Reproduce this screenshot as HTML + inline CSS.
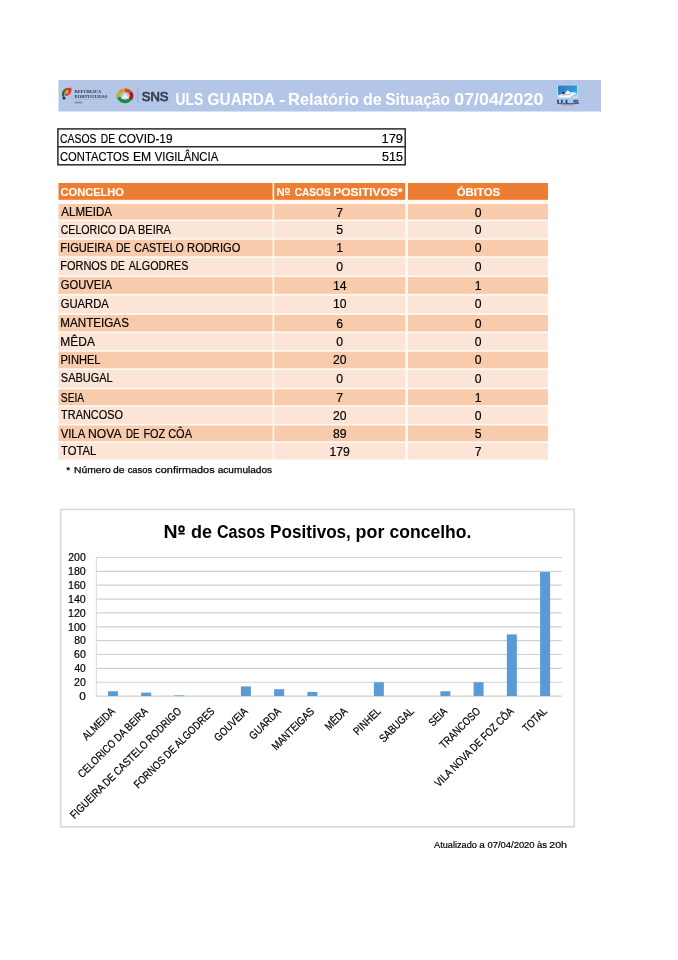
<!DOCTYPE html>
<html><head><meta charset="utf-8"><style>
html,body{margin:0;padding:0;background:#fff;width:678px;height:960px;overflow:hidden}
svg{display:block;will-change:transform}
text{font-family:"Liberation Sans",sans-serif}
</style></head><body>
<svg width="678" height="960" viewBox="0 0 678 960">
<rect x="58.5" y="80" width="542.5" height="31.5" fill="#b4c6e7"/>
<g><path d="M65.6 88.2 C62.6 89.6 61.4 93.4 62.2 96.8 L64.4 96.4 C64 93.8 64.6 91 66.4 89.2 Z" fill="#1c6e34"/><path d="M65.2 88.6 C67.6 87.6 71 87.4 71.5 88.2 C71.8 91.8 70.4 95.2 65.6 96 C64.6 93.4 64.4 90.6 65.2 88.6 Z" fill="#d43a22"/><ellipse cx="66.9" cy="91.9" rx="1.7" ry="2.0" fill="#f49a5a"/><circle cx="64" cy="98.2" r="1.4" fill="#16303e"/></g>
<text x="74.53" y="92.80" font-size="4.9" fill="#3e4256" style="font-family:Liberation Serif, serif" stroke="#3e4256" stroke-width="0.08" font-weight="bold" textLength="26.89" lengthAdjust="spacingAndGlyphs" >REPÚBLICA</text>
<text x="74.53" y="97.60" font-size="4.9" fill="#3e4256" style="font-family:Liberation Serif, serif" stroke="#3e4256" stroke-width="0.08" font-weight="bold" textLength="33.00" lengthAdjust="spacingAndGlyphs" >PORTUGUESA</text>
<rect x="74.6" y="99.2" width="33" height="0.4" fill="#9aa2b8"/>
<rect x="74.6" y="101.8" width="7.6" height="1.5" fill="#7a8098"/>
<g fill="none" stroke-width="3.5"><path d="M131.38 97.25 A6.6 5.6 0 0 1 118.62 94.35" stroke="#1f8a3a"/><path d="M118.62 97.25 A6.6 5.6 0 0 1 120.33 91.84" stroke="#a8c030"/><path d="M119.59 92.59 A6.6 5.6 0 0 1 126.15 90.29" stroke="#f09030"/><path d="M125.00 90.20 A6.6 5.6 0 0 1 131.20 93.88" stroke="#d84a1c"/><path d="M130.72 93.00 A6.6 5.6 0 0 1 130.41 99.01" stroke="#a8182a"/></g>
<path d="M121.2 98.6 L125.2 93.6 L129.2 98.6 Z" fill="#eef4f6"/>
<rect x="137.4" y="88" width="0.8" height="15" fill="#9aa6c0"/>
<text x="141.71" y="100.80" font-size="13.6" fill="#363c4e" stroke="#363c4e" stroke-width="0.75" textLength="26.89" lengthAdjust="spacingAndGlyphs" >SNS</text>
<text x="175.57" y="104.80" font-size="16" fill="#ffffff" font-weight="bold" textLength="27.72" lengthAdjust="spacingAndGlyphs" >ULS</text>
<text x="207.59" y="104.80" font-size="16" fill="#ffffff" font-weight="bold" textLength="67.46" lengthAdjust="spacingAndGlyphs" >GUARDA</text>
<text x="278.96" y="104.80" font-size="16" fill="#ffffff" font-weight="bold" textLength="6.14" lengthAdjust="spacingAndGlyphs" >-</text>
<text x="288.14" y="104.80" font-size="16" fill="#ffffff" font-weight="bold" textLength="70.80" lengthAdjust="spacingAndGlyphs" >Relatório</text>
<text x="362.96" y="104.80" font-size="16" fill="#ffffff" font-weight="bold" textLength="18.74" lengthAdjust="spacingAndGlyphs" >de</text>
<text x="385.23" y="104.80" font-size="16" fill="#ffffff" font-weight="bold" textLength="64.74" lengthAdjust="spacingAndGlyphs" >Situação</text>
<text x="454.29" y="104.80" font-size="16" fill="#ffffff" font-weight="bold" textLength="89.02" lengthAdjust="spacingAndGlyphs" >07/04/2020</text>
<defs><linearGradient id="ulsg" x1="0" y1="0" x2="1" y2="1"><stop offset="0" stop-color="#2a78c0"/><stop offset="0.6" stop-color="#2f9ad8"/><stop offset="1" stop-color="#40c8c8"/></linearGradient></defs>
<rect x="557.2" y="84.8" width="20.6" height="13.2" fill="#c8daf0"/>
<path d="M558 85.6 H577 V94.5 Q567.5 99.5 558 94.5 Z" fill="url(#ulsg)"/>
<path d="M558.4 96.2 Q563 91.6 572 92.2 Q576.5 92.6 576.6 93.4 Q571 97.8 563.5 97.6 Q559.5 97.4 558.4 96.2 Z" fill="#f4f8fc"/>
<path d="M560.5 95.4 Q566 93.4 573.5 93.6 Q568 96.2 560.5 95.4 Z" fill="#9ac4e0"/>
<circle cx="563.4" cy="93.1" r="1.35" fill="#8a1044"/>
<ellipse cx="567.8" cy="92.3" rx="1.5" ry="1.8" fill="#ffffff"/>
<text x="556.68" y="103.80" font-size="4.6" fill="#1f4a86" stroke="#1f4a86" stroke-width="0.3" font-weight="bold" textLength="22.23" lengthAdjust="spacingAndGlyphs" >U.L.S</text>
<rect x="561.2" y="104.3" width="12.8" height="1.0" fill="#d07888"/>
<rect x="57.9" y="128.9" width="347.3" height="35.9" fill="none" stroke="#2a2a2a" stroke-width="1.5"/>
<line x1="57.9" y1="146.8" x2="405.2" y2="146.8" stroke="#2a2a2a" stroke-width="1.5"/>
<text x="60.08" y="142.70" font-size="12.1" fill="#000" stroke="#000" stroke-width="0.18" textLength="36.40" lengthAdjust="spacingAndGlyphs" >CASOS</text>
<text x="100.78" y="142.70" font-size="12.1" fill="#000" stroke="#000" stroke-width="0.18" textLength="14.17" lengthAdjust="spacingAndGlyphs" >DE</text>
<text x="118.21" y="142.70" font-size="12.1" fill="#000" stroke="#000" stroke-width="0.18" textLength="54.25" lengthAdjust="spacingAndGlyphs" >COVID-19</text>
<text x="381.53" y="142.70" font-size="12.1" fill="#000" stroke="#000" stroke-width="0.18" textLength="21.49" lengthAdjust="spacingAndGlyphs" >179</text>
<text x="60.04" y="160.70" font-size="12.1" fill="#000" stroke="#000" stroke-width="0.18" textLength="69.27" lengthAdjust="spacingAndGlyphs" >CONTACTOS</text>
<text x="132.93" y="160.70" font-size="12.1" fill="#000" stroke="#000" stroke-width="0.18" textLength="18.20" lengthAdjust="spacingAndGlyphs" >EM</text>
<text x="154.74" y="160.70" font-size="12.1" fill="#000" stroke="#000" stroke-width="0.18" textLength="63.49" lengthAdjust="spacingAndGlyphs" >VIGILÂNCIA</text>
<text x="382.00" y="160.70" font-size="12.1" fill="#000" stroke="#000" stroke-width="0.18" textLength="20.95" lengthAdjust="spacingAndGlyphs" >515</text>
<rect x="58.5" y="199.6" width="489.5" height="259.9" fill="#fff9f2"/>
<g fill="#ed7d31">
<rect x="58.5" y="183" width="214.1" height="16.8"/>
<rect x="274.2" y="183" width="131.0" height="16.8"/>
<rect x="408.0" y="183" width="140.0" height="16.8"/>
</g>
<text x="60.56" y="196.40" font-size="11.5" fill="#fffaf2" stroke="#fffaf2" stroke-width="0.2" font-weight="bold" textLength="63.41" lengthAdjust="spacingAndGlyphs" >CONCELHO</text>
<text x="276.46" y="196.20" font-size="11.5" fill="#fffaf2" stroke="#fffaf2" stroke-width="0.2" font-weight="bold" textLength="8.20" lengthAdjust="spacingAndGlyphs" >N</text>
<ellipse cx="287.5" cy="190.5" rx="1.9" ry="2.0" fill="none" stroke="#fffaf2" stroke-width="1.3"/>
<rect x="285.2" y="193.8" width="4.8" height="1.1" fill="#fffaf2"/>
<text x="294.80" y="196.20" font-size="11.5" fill="#fffaf2" stroke="#fffaf2" stroke-width="0.2" font-weight="bold" textLength="35.87" lengthAdjust="spacingAndGlyphs" >CASOS</text>
<text x="333.22" y="196.20" font-size="11.5" fill="#fffaf2" stroke="#fffaf2" stroke-width="0.2" font-weight="bold" textLength="69.33" lengthAdjust="spacingAndGlyphs" >POSITIVOS*</text>
<text x="456.75" y="196.40" font-size="11.5" fill="#fffaf2" stroke="#fffaf2" stroke-width="0.2" font-weight="bold" textLength="43.36" lengthAdjust="spacingAndGlyphs" >ÓBITOS</text>
<rect x="58.5" y="204.00" width="214.1" height="15.50" fill="#f8cbad"/>
<rect x="274.2" y="204.00" width="131.0" height="15.50" fill="#f8cbad"/>
<rect x="408.0" y="204.00" width="140.0" height="15.50" fill="#f8cbad"/>
<text x="61.30" y="216.40" font-size="11.9" fill="#000" stroke="#000" stroke-width="0.18" textLength="50.60" lengthAdjust="spacingAndGlyphs" >ALMEIDA</text>
<text x="339.70" y="216.60" font-size="12.2" fill="#000" stroke="#000" stroke-width="0.18" text-anchor="middle" >7</text>
<text x="478.20" y="216.60" font-size="12.2" fill="#000" stroke="#000" stroke-width="0.18" text-anchor="middle" >0</text>
<rect x="58.5" y="221.20" width="214.1" height="16.90" fill="#fce4d6"/>
<rect x="274.2" y="221.20" width="131.0" height="16.90" fill="#fce4d6"/>
<rect x="408.0" y="221.20" width="140.0" height="16.90" fill="#fce4d6"/>
<text x="60.67" y="233.60" font-size="11.9" fill="#000" stroke="#000" stroke-width="0.18" textLength="55.44" lengthAdjust="spacingAndGlyphs" >CELORICO</text>
<text x="119.06" y="233.60" font-size="11.9" fill="#000" stroke="#000" stroke-width="0.18" textLength="16.39" lengthAdjust="spacingAndGlyphs" >DA</text>
<text x="138.02" y="233.60" font-size="11.9" fill="#000" stroke="#000" stroke-width="0.18" textLength="32.89" lengthAdjust="spacingAndGlyphs" >BEIRA</text>
<text x="339.70" y="233.80" font-size="12.2" fill="#000" stroke="#000" stroke-width="0.18" text-anchor="middle" >5</text>
<text x="478.20" y="233.80" font-size="12.2" fill="#000" stroke="#000" stroke-width="0.18" text-anchor="middle" >0</text>
<rect x="58.5" y="239.80" width="214.1" height="16.50" fill="#f8cbad"/>
<rect x="274.2" y="239.80" width="131.0" height="16.50" fill="#f8cbad"/>
<rect x="408.0" y="239.80" width="140.0" height="16.50" fill="#f8cbad"/>
<text x="60.31" y="252.20" font-size="11.9" fill="#000" stroke="#000" stroke-width="0.18" textLength="52.42" lengthAdjust="spacingAndGlyphs" >FIGUEIRA</text>
<text x="115.96" y="252.20" font-size="11.9" fill="#000" stroke="#000" stroke-width="0.18" textLength="14.61" lengthAdjust="spacingAndGlyphs" >DE</text>
<text x="134.27" y="252.20" font-size="11.9" fill="#000" stroke="#000" stroke-width="0.18" textLength="49.54" lengthAdjust="spacingAndGlyphs" >CASTELO</text>
<text x="187.11" y="252.20" font-size="11.9" fill="#000" stroke="#000" stroke-width="0.18" textLength="53.22" lengthAdjust="spacingAndGlyphs" >RODRIGO</text>
<text x="339.70" y="252.40" font-size="12.2" fill="#000" stroke="#000" stroke-width="0.18" text-anchor="middle" >1</text>
<text x="478.20" y="252.40" font-size="12.2" fill="#000" stroke="#000" stroke-width="0.18" text-anchor="middle" >0</text>
<rect x="58.5" y="258.00" width="214.1" height="17.30" fill="#fce4d6"/>
<rect x="274.2" y="258.00" width="131.0" height="17.30" fill="#fce4d6"/>
<rect x="408.0" y="258.00" width="140.0" height="17.30" fill="#fce4d6"/>
<text x="60.32" y="270.40" font-size="11.9" fill="#000" stroke="#000" stroke-width="0.18" textLength="46.80" lengthAdjust="spacingAndGlyphs" >FORNOS</text>
<text x="110.48" y="270.40" font-size="11.9" fill="#000" stroke="#000" stroke-width="0.18" textLength="14.28" lengthAdjust="spacingAndGlyphs" >DE</text>
<text x="128.70" y="270.40" font-size="11.9" fill="#000" stroke="#000" stroke-width="0.18" textLength="59.71" lengthAdjust="spacingAndGlyphs" >ALGODRES</text>
<text x="339.70" y="270.60" font-size="12.2" fill="#000" stroke="#000" stroke-width="0.18" text-anchor="middle" >0</text>
<text x="478.20" y="270.60" font-size="12.2" fill="#000" stroke="#000" stroke-width="0.18" text-anchor="middle" >0</text>
<rect x="58.5" y="277.00" width="214.1" height="16.90" fill="#f8cbad"/>
<rect x="274.2" y="277.00" width="131.0" height="16.90" fill="#f8cbad"/>
<rect x="408.0" y="277.00" width="140.0" height="16.90" fill="#f8cbad"/>
<text x="60.74" y="289.40" font-size="11.9" fill="#000" stroke="#000" stroke-width="0.18" textLength="51.18" lengthAdjust="spacingAndGlyphs" >GOUVEIA</text>
<text x="339.70" y="289.60" font-size="12.2" fill="#000" stroke="#000" stroke-width="0.18" text-anchor="middle" >14</text>
<text x="478.20" y="289.60" font-size="12.2" fill="#000" stroke="#000" stroke-width="0.18" text-anchor="middle" >1</text>
<rect x="58.5" y="295.60" width="214.1" height="17.70" fill="#fce4d6"/>
<rect x="274.2" y="295.60" width="131.0" height="17.70" fill="#fce4d6"/>
<rect x="408.0" y="295.60" width="140.0" height="17.70" fill="#fce4d6"/>
<text x="60.74" y="308.00" font-size="11.9" fill="#000" stroke="#000" stroke-width="0.18" textLength="48.10" lengthAdjust="spacingAndGlyphs" >GUARDA</text>
<text x="339.70" y="308.20" font-size="12.2" fill="#000" stroke="#000" stroke-width="0.18" text-anchor="middle" >10</text>
<text x="478.20" y="308.20" font-size="12.2" fill="#000" stroke="#000" stroke-width="0.18" text-anchor="middle" >0</text>
<rect x="58.5" y="315.00" width="214.1" height="16.40" fill="#f8cbad"/>
<rect x="274.2" y="315.00" width="131.0" height="16.40" fill="#f8cbad"/>
<rect x="408.0" y="315.00" width="140.0" height="16.40" fill="#f8cbad"/>
<text x="60.37" y="327.40" font-size="11.9" fill="#000" stroke="#000" stroke-width="0.18" textLength="68.55" lengthAdjust="spacingAndGlyphs" >MANTEIGAS</text>
<text x="339.70" y="327.60" font-size="12.2" fill="#000" stroke="#000" stroke-width="0.18" text-anchor="middle" >6</text>
<text x="478.20" y="327.60" font-size="12.2" fill="#000" stroke="#000" stroke-width="0.18" text-anchor="middle" >0</text>
<rect x="58.5" y="333.10" width="214.1" height="16.90" fill="#fce4d6"/>
<rect x="274.2" y="333.10" width="131.0" height="16.90" fill="#fce4d6"/>
<rect x="408.0" y="333.10" width="140.0" height="16.90" fill="#fce4d6"/>
<text x="60.34" y="345.50" font-size="11.9" fill="#000" stroke="#000" stroke-width="0.18" textLength="34.61" lengthAdjust="spacingAndGlyphs" >MÊDA</text>
<text x="339.70" y="345.70" font-size="12.2" fill="#000" stroke="#000" stroke-width="0.18" text-anchor="middle" >0</text>
<text x="478.20" y="345.70" font-size="12.2" fill="#000" stroke="#000" stroke-width="0.18" text-anchor="middle" >0</text>
<rect x="58.5" y="351.70" width="214.1" height="16.60" fill="#f8cbad"/>
<rect x="274.2" y="351.70" width="131.0" height="16.60" fill="#f8cbad"/>
<rect x="408.0" y="351.70" width="140.0" height="16.60" fill="#f8cbad"/>
<text x="60.41" y="364.10" font-size="11.9" fill="#000" stroke="#000" stroke-width="0.18" textLength="40.05" lengthAdjust="spacingAndGlyphs" >PINHEL</text>
<text x="339.70" y="364.30" font-size="12.2" fill="#000" stroke="#000" stroke-width="0.18" text-anchor="middle" >20</text>
<text x="478.20" y="364.30" font-size="12.2" fill="#000" stroke="#000" stroke-width="0.18" text-anchor="middle" >0</text>
<rect x="58.5" y="370.00" width="214.1" height="17.60" fill="#fce4d6"/>
<rect x="274.2" y="370.00" width="131.0" height="17.60" fill="#fce4d6"/>
<rect x="408.0" y="370.00" width="140.0" height="17.60" fill="#fce4d6"/>
<text x="60.81" y="382.40" font-size="11.9" fill="#000" stroke="#000" stroke-width="0.18" textLength="51.92" lengthAdjust="spacingAndGlyphs" >SABUGAL</text>
<text x="339.70" y="382.60" font-size="12.2" fill="#000" stroke="#000" stroke-width="0.18" text-anchor="middle" >0</text>
<text x="478.20" y="382.60" font-size="12.2" fill="#000" stroke="#000" stroke-width="0.18" text-anchor="middle" >0</text>
<rect x="58.5" y="389.30" width="214.1" height="15.90" fill="#f8cbad"/>
<rect x="274.2" y="389.30" width="131.0" height="15.90" fill="#f8cbad"/>
<rect x="408.0" y="389.30" width="140.0" height="15.90" fill="#f8cbad"/>
<text x="60.84" y="401.70" font-size="11.9" fill="#000" stroke="#000" stroke-width="0.18" textLength="23.30" lengthAdjust="spacingAndGlyphs" >SEIA</text>
<text x="339.70" y="401.90" font-size="12.2" fill="#000" stroke="#000" stroke-width="0.18" text-anchor="middle" >7</text>
<text x="478.20" y="401.90" font-size="12.2" fill="#000" stroke="#000" stroke-width="0.18" text-anchor="middle" >1</text>
<rect x="58.5" y="406.90" width="214.1" height="16.90" fill="#fce4d6"/>
<rect x="274.2" y="406.90" width="131.0" height="16.90" fill="#fce4d6"/>
<rect x="408.0" y="406.90" width="140.0" height="16.90" fill="#fce4d6"/>
<text x="61.08" y="419.30" font-size="11.9" fill="#000" stroke="#000" stroke-width="0.18" textLength="61.93" lengthAdjust="spacingAndGlyphs" >TRANCOSO</text>
<text x="339.70" y="419.50" font-size="12.2" fill="#000" stroke="#000" stroke-width="0.18" text-anchor="middle" >20</text>
<text x="478.20" y="419.50" font-size="12.2" fill="#000" stroke="#000" stroke-width="0.18" text-anchor="middle" >0</text>
<rect x="58.5" y="425.50" width="214.1" height="15.80" fill="#f8cbad"/>
<rect x="274.2" y="425.50" width="131.0" height="15.80" fill="#f8cbad"/>
<rect x="408.0" y="425.50" width="140.0" height="15.80" fill="#f8cbad"/>
<text x="60.64" y="437.90" font-size="11.9" fill="#000" stroke="#000" stroke-width="0.18" textLength="24.59" lengthAdjust="spacingAndGlyphs" >VILA</text>
<text x="88.03" y="437.90" font-size="11.9" fill="#000" stroke="#000" stroke-width="0.18" textLength="33.47" lengthAdjust="spacingAndGlyphs" >NOVA</text>
<text x="126.03" y="437.90" font-size="11.9" fill="#000" stroke="#000" stroke-width="0.18" textLength="13.40" lengthAdjust="spacingAndGlyphs" >DE</text>
<text x="143.43" y="437.90" font-size="11.9" fill="#000" stroke="#000" stroke-width="0.18" textLength="21.79" lengthAdjust="spacingAndGlyphs" >FOZ</text>
<text x="168.15" y="437.90" font-size="11.9" fill="#000" stroke="#000" stroke-width="0.18" textLength="23.87" lengthAdjust="spacingAndGlyphs" >CÔA</text>
<text x="339.70" y="438.10" font-size="12.2" fill="#000" stroke="#000" stroke-width="0.18" text-anchor="middle" >89</text>
<text x="478.20" y="438.10" font-size="12.2" fill="#000" stroke="#000" stroke-width="0.18" text-anchor="middle" >5</text>
<rect x="58.5" y="443.00" width="214.1" height="16.50" fill="#fce4d6"/>
<rect x="274.2" y="443.00" width="131.0" height="16.50" fill="#fce4d6"/>
<rect x="408.0" y="443.00" width="140.0" height="16.50" fill="#fce4d6"/>
<text x="61.08" y="455.40" font-size="11.9" fill="#000" stroke="#000" stroke-width="0.18" textLength="35.17" lengthAdjust="spacingAndGlyphs" >TOTAL</text>
<text x="339.70" y="455.60" font-size="12.2" fill="#000" stroke="#000" stroke-width="0.18" text-anchor="middle" >179</text>
<text x="478.20" y="455.60" font-size="12.2" fill="#000" stroke="#000" stroke-width="0.18" text-anchor="middle" >7</text>
<text x="66.35" y="473.30" font-size="9.6" fill="#000" stroke="#000" stroke-width="0.25" textLength="3.89" lengthAdjust="spacingAndGlyphs" >*</text>
<text x="74.08" y="473.30" font-size="9.6" fill="#000" stroke="#000" stroke-width="0.25" textLength="36.66" lengthAdjust="spacingAndGlyphs" >Número</text>
<text x="113.09" y="473.30" font-size="9.6" fill="#000" stroke="#000" stroke-width="0.25" textLength="11.50" lengthAdjust="spacingAndGlyphs" >de</text>
<text x="127.73" y="473.30" font-size="9.6" fill="#000" stroke="#000" stroke-width="0.25" textLength="24.32" lengthAdjust="spacingAndGlyphs" >casos</text>
<text x="155.36" y="473.30" font-size="9.6" fill="#000" stroke="#000" stroke-width="0.25" textLength="59.24" lengthAdjust="spacingAndGlyphs" >confirmados</text>
<text x="217.70" y="473.30" font-size="9.6" fill="#000" stroke="#000" stroke-width="0.25" textLength="54.48" lengthAdjust="spacingAndGlyphs" >acumulados</text>
<rect x="60.7" y="509.4" width="513.6" height="317.4" fill="#fff" stroke="#d9d9d9" stroke-width="1.6"/>
<text x="163.43" y="537.50" font-size="17.6" fill="#000" font-weight="bold" textLength="14.08" lengthAdjust="spacingAndGlyphs" >N</text>
<ellipse cx="181.5" cy="528.9" rx="2.3" ry="2.7" fill="none" stroke="#000" stroke-width="1.9"/>
<rect x="178.4" y="533.0" width="6.3" height="1.5" fill="#000"/>
<text x="191.08" y="537.50" font-size="17.6" fill="#000" font-weight="bold" textLength="21.09" lengthAdjust="spacingAndGlyphs" >de</text>
<text x="217.06" y="537.50" font-size="17.6" fill="#000" font-weight="bold" textLength="48.11" lengthAdjust="spacingAndGlyphs" >Casos</text>
<text x="270.09" y="537.50" font-size="17.6" fill="#000" font-weight="bold" textLength="80.79" lengthAdjust="spacingAndGlyphs" >Positivos,</text>
<text x="355.64" y="537.50" font-size="17.6" fill="#000" font-weight="bold" textLength="28.74" lengthAdjust="spacingAndGlyphs" >por</text>
<text x="389.60" y="537.50" font-size="17.6" fill="#000" font-weight="bold" textLength="81.78" lengthAdjust="spacingAndGlyphs" >concelho.</text>
<line x1="96.3" y1="696.10" x2="561.7" y2="696.10" stroke="#d0d0d0" stroke-width="1.2"/>
<text x="79.23" y="699.80" font-size="10.7" fill="#000" stroke="#000" stroke-width="0.2" textLength="6.60" lengthAdjust="spacingAndGlyphs" >0</text>
<line x1="96.3" y1="682.24" x2="561.7" y2="682.24" stroke="#d0d0d0" stroke-width="1.2"/>
<text x="74.07" y="685.94" font-size="10.7" fill="#000" stroke="#000" stroke-width="0.2" textLength="11.72" lengthAdjust="spacingAndGlyphs" >20</text>
<line x1="96.3" y1="668.38" x2="561.7" y2="668.38" stroke="#d0d0d0" stroke-width="1.2"/>
<text x="74.40" y="672.08" font-size="10.7" fill="#000" stroke="#000" stroke-width="0.2" textLength="11.39" lengthAdjust="spacingAndGlyphs" >40</text>
<line x1="96.3" y1="654.52" x2="561.7" y2="654.52" stroke="#d0d0d0" stroke-width="1.2"/>
<text x="74.07" y="658.22" font-size="10.7" fill="#000" stroke="#000" stroke-width="0.2" textLength="11.72" lengthAdjust="spacingAndGlyphs" >60</text>
<line x1="96.3" y1="640.66" x2="561.7" y2="640.66" stroke="#d0d0d0" stroke-width="1.2"/>
<text x="74.13" y="644.36" font-size="10.7" fill="#000" stroke="#000" stroke-width="0.2" textLength="11.66" lengthAdjust="spacingAndGlyphs" >80</text>
<line x1="96.3" y1="626.80" x2="561.7" y2="626.80" stroke="#d0d0d0" stroke-width="1.2"/>
<text x="68.00" y="630.50" font-size="10.7" fill="#000" stroke="#000" stroke-width="0.2" textLength="17.81" lengthAdjust="spacingAndGlyphs" >100</text>
<line x1="96.3" y1="612.94" x2="561.7" y2="612.94" stroke="#d0d0d0" stroke-width="1.2"/>
<text x="68.00" y="616.64" font-size="10.7" fill="#000" stroke="#000" stroke-width="0.2" textLength="17.81" lengthAdjust="spacingAndGlyphs" >120</text>
<line x1="96.3" y1="599.08" x2="561.7" y2="599.08" stroke="#d0d0d0" stroke-width="1.2"/>
<text x="68.00" y="602.78" font-size="10.7" fill="#000" stroke="#000" stroke-width="0.2" textLength="17.81" lengthAdjust="spacingAndGlyphs" >140</text>
<line x1="96.3" y1="585.22" x2="561.7" y2="585.22" stroke="#d0d0d0" stroke-width="1.2"/>
<text x="68.00" y="588.92" font-size="10.7" fill="#000" stroke="#000" stroke-width="0.2" textLength="17.81" lengthAdjust="spacingAndGlyphs" >160</text>
<line x1="96.3" y1="571.36" x2="561.7" y2="571.36" stroke="#d0d0d0" stroke-width="1.2"/>
<text x="68.00" y="575.06" font-size="10.7" fill="#000" stroke="#000" stroke-width="0.2" textLength="17.81" lengthAdjust="spacingAndGlyphs" >180</text>
<line x1="96.3" y1="557.50" x2="561.7" y2="557.50" stroke="#d0d0d0" stroke-width="1.2"/>
<text x="68.27" y="561.20" font-size="10.7" fill="#000" stroke="#000" stroke-width="0.2" textLength="17.53" lengthAdjust="spacingAndGlyphs" >200</text>
<line x1="96.3" y1="557.50" x2="96.3" y2="696.10" stroke="#d9d9d9" stroke-width="1"/>
<rect x="107.92" y="691.25" width="10" height="4.85" fill="#5b9bd5"/>
<text x="115.52" y="712.00" font-size="11.1" stroke="#000" stroke-width="0.22" text-anchor="end" textLength="40.83" lengthAdjust="spacingAndGlyphs" transform="rotate(-45 115.52 712.00)">ALMEIDA</text>
<rect x="141.16" y="692.63" width="10" height="3.46" fill="#5b9bd5"/>
<text x="148.76" y="712.00" font-size="11.1" stroke="#000" stroke-width="0.22" text-anchor="end" textLength="94.06" lengthAdjust="spacingAndGlyphs" transform="rotate(-45 148.76 712.00)">CELORICO DA BEIRA</text>
<rect x="174.41" y="695.41" width="10" height="0.69" fill="#5b9bd5"/>
<text x="182.01" y="712.00" font-size="11.1" stroke="#000" stroke-width="0.22" text-anchor="end" textLength="151.93" lengthAdjust="spacingAndGlyphs" transform="rotate(-45 182.01 712.00)">FIGUEIRA DE CASTELO RODRIGO</text>
<text x="215.25" y="712.00" font-size="11.1" stroke="#000" stroke-width="0.22" text-anchor="end" textLength="109.04" lengthAdjust="spacingAndGlyphs" transform="rotate(-45 215.25 712.00)">FORNOS DE ALGODRES</text>
<rect x="240.89" y="686.40" width="10" height="9.70" fill="#5b9bd5"/>
<text x="248.49" y="712.00" font-size="11.1" stroke="#000" stroke-width="0.22" text-anchor="end" textLength="42.38" lengthAdjust="spacingAndGlyphs" transform="rotate(-45 248.49 712.00)">GOUVEIA</text>
<rect x="274.14" y="689.17" width="10" height="6.93" fill="#5b9bd5"/>
<text x="281.74" y="712.00" font-size="11.1" stroke="#000" stroke-width="0.22" text-anchor="end" textLength="39.79" lengthAdjust="spacingAndGlyphs" transform="rotate(-45 281.74 712.00)">GUARDA</text>
<rect x="307.38" y="691.94" width="10" height="4.16" fill="#5b9bd5"/>
<text x="314.98" y="712.00" font-size="11.1" stroke="#000" stroke-width="0.22" text-anchor="end" textLength="54.78" lengthAdjust="spacingAndGlyphs" transform="rotate(-45 314.98 712.00)">MANTEIGAS</text>
<text x="348.22" y="712.00" font-size="11.1" stroke="#000" stroke-width="0.22" text-anchor="end" textLength="26.87" lengthAdjust="spacingAndGlyphs" transform="rotate(-45 348.22 712.00)">MÊDA</text>
<rect x="373.86" y="682.24" width="10" height="13.86" fill="#5b9bd5"/>
<text x="381.46" y="712.00" font-size="11.1" stroke="#000" stroke-width="0.22" text-anchor="end" textLength="33.60" lengthAdjust="spacingAndGlyphs" transform="rotate(-45 381.46 712.00)">PINHEL</text>
<text x="414.71" y="712.00" font-size="11.1" stroke="#000" stroke-width="0.22" text-anchor="end" textLength="43.94" lengthAdjust="spacingAndGlyphs" transform="rotate(-45 414.71 712.00)">SABUGAL</text>
<rect x="440.35" y="691.25" width="10" height="4.85" fill="#5b9bd5"/>
<text x="447.95" y="712.00" font-size="11.1" stroke="#000" stroke-width="0.22" text-anchor="end" textLength="21.19" lengthAdjust="spacingAndGlyphs" transform="rotate(-45 447.95 712.00)">SEIA</text>
<rect x="473.59" y="682.24" width="10" height="13.86" fill="#5b9bd5"/>
<text x="481.19" y="712.00" font-size="11.1" stroke="#000" stroke-width="0.22" text-anchor="end" textLength="52.70" lengthAdjust="spacingAndGlyphs" transform="rotate(-45 481.19 712.00)">TRANCOSO</text>
<rect x="506.84" y="634.42" width="10" height="61.68" fill="#5b9bd5"/>
<text x="514.44" y="712.00" font-size="11.1" stroke="#000" stroke-width="0.22" text-anchor="end" textLength="106.81" lengthAdjust="spacingAndGlyphs" transform="rotate(-45 514.44 712.00)">VILA NOVA DE FOZ CÔA</text>
<rect x="540.08" y="572.05" width="10" height="124.05" fill="#5b9bd5"/>
<text x="547.68" y="712.00" font-size="11.1" stroke="#000" stroke-width="0.22" text-anchor="end" textLength="29.11" lengthAdjust="spacingAndGlyphs" transform="rotate(-45 547.68 712.00)">TOTAL</text>
<text x="434.10" y="847.60" font-size="9.2" fill="#000" stroke="#000" stroke-width="0.2" textLength="42.77" lengthAdjust="spacingAndGlyphs" >Atualizado</text>
<text x="479.20" y="847.60" font-size="9.2" fill="#000" stroke="#000" stroke-width="0.2" textLength="5.51" lengthAdjust="spacingAndGlyphs" >a</text>
<text x="487.42" y="847.60" font-size="9.2" fill="#000" stroke="#000" stroke-width="0.2" textLength="47.21" lengthAdjust="spacingAndGlyphs" >07/04/2020</text>
<text x="537.02" y="847.60" font-size="9.2" fill="#000" stroke="#000" stroke-width="0.2" textLength="10.02" lengthAdjust="spacingAndGlyphs" >às</text>
<text x="549.27" y="847.60" font-size="9.2" fill="#000" stroke="#000" stroke-width="0.2" textLength="17.76" lengthAdjust="spacingAndGlyphs" >20h</text>
</svg>
</body></html>
